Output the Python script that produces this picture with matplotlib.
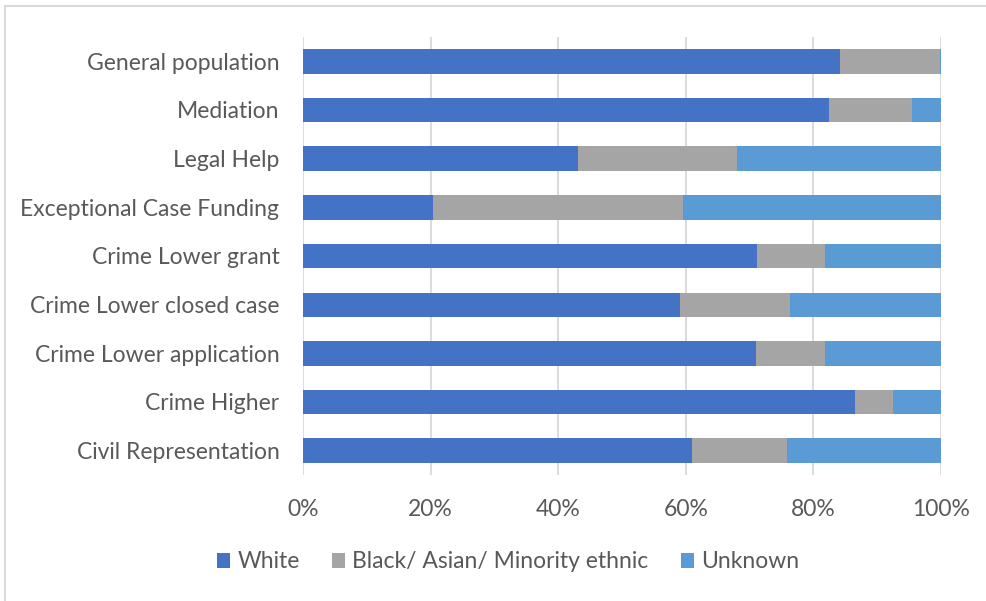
import matplotlib
matplotlib.use("Agg")
import matplotlib.pyplot as plt
from matplotlib.patches import Rectangle
from matplotlib.ticker import FuncFormatter

categories = ["General population", "Mediation", "Legal Help", "Exceptional Case Funding",
              "Crime Lower grant", "Crime Lower closed case", "Crime Lower application",
              "Crime Higher", "Civil Representation"]
white = [84.1, 82.4, 43.1, 20.3, 71.2, 59.1, 71.0, 86.5, 61.0]
bame = [15.7, 13.1, 25.0, 39.2, 10.6, 17.3, 10.8, 5.9, 14.8]
unknown = [0.2, 4.5, 31.9, 40.5, 18.2, 23.6, 18.2, 7.6, 24.2]
series_names = ["White", "Black/ Asian/ Minority ethnic", "Unknown"]
xticks = [0, 20, 40, 60, 80, 100]

plt.rcParams['font.family'] = ['Lato', 'DejaVu Sans']
FS = 16.5
W, H = 987, 601
fig = plt.figure(figsize=(W/100, H/100), dpi=100)
ax = fig.add_axes([303/W, 1-475/H, (941-303)/W, (475-37)/H])

y = list(range(len(categories)))[::-1]
colors = ["#4472C4", "#A5A5A5", "#5B9BD5"]
left = [0]*len(categories)
handles = []
for vals, c, name in zip([white, bame, unknown], colors, series_names):
    b = ax.barh(y, vals, left=left, height=0.5, color=c, label=name, zorder=3)
    handles.append(b)
    left = [l+v for l, v in zip(left, vals)]

ax.set_xlim(0, 100)
ax.set_ylim(-0.5, len(categories)-0.5)
ax.set_yticks(y)
ax.set_yticklabels(categories)
ax.set_xticks(xticks)
ax.xaxis.set_major_formatter(FuncFormatter(lambda v, p: f"{int(v)}%"))
ax.grid(axis='x', color="#D9D9D9", linewidth=1.3, zorder=0)
for s in ax.spines.values():
    s.set_visible(False)
ax.tick_params(axis='both', length=0, labelsize=FS, labelcolor="#595959")
ax.tick_params(axis='y', pad=17)
ax.tick_params(axis='x', pad=17)

fig.legend(handles=handles, labels=series_names, loc='center', bbox_to_anchor=(508/W, 1-562/H),
           ncol=3, frameon=False, fontsize=FS, labelcolor="#595959",
           handlelength=0.6, handleheight=0.6, handletextpad=0.3, columnspacing=1.4)

fig.patches.append(Rectangle((5/W, -0.1), 1.2, 1-6/H+0.1, transform=fig.transFigure,
                             fill=False, edgecolor="#D9D9D9", linewidth=1.5))
fig.savefig("out.png", dpi=100, facecolor="white")
